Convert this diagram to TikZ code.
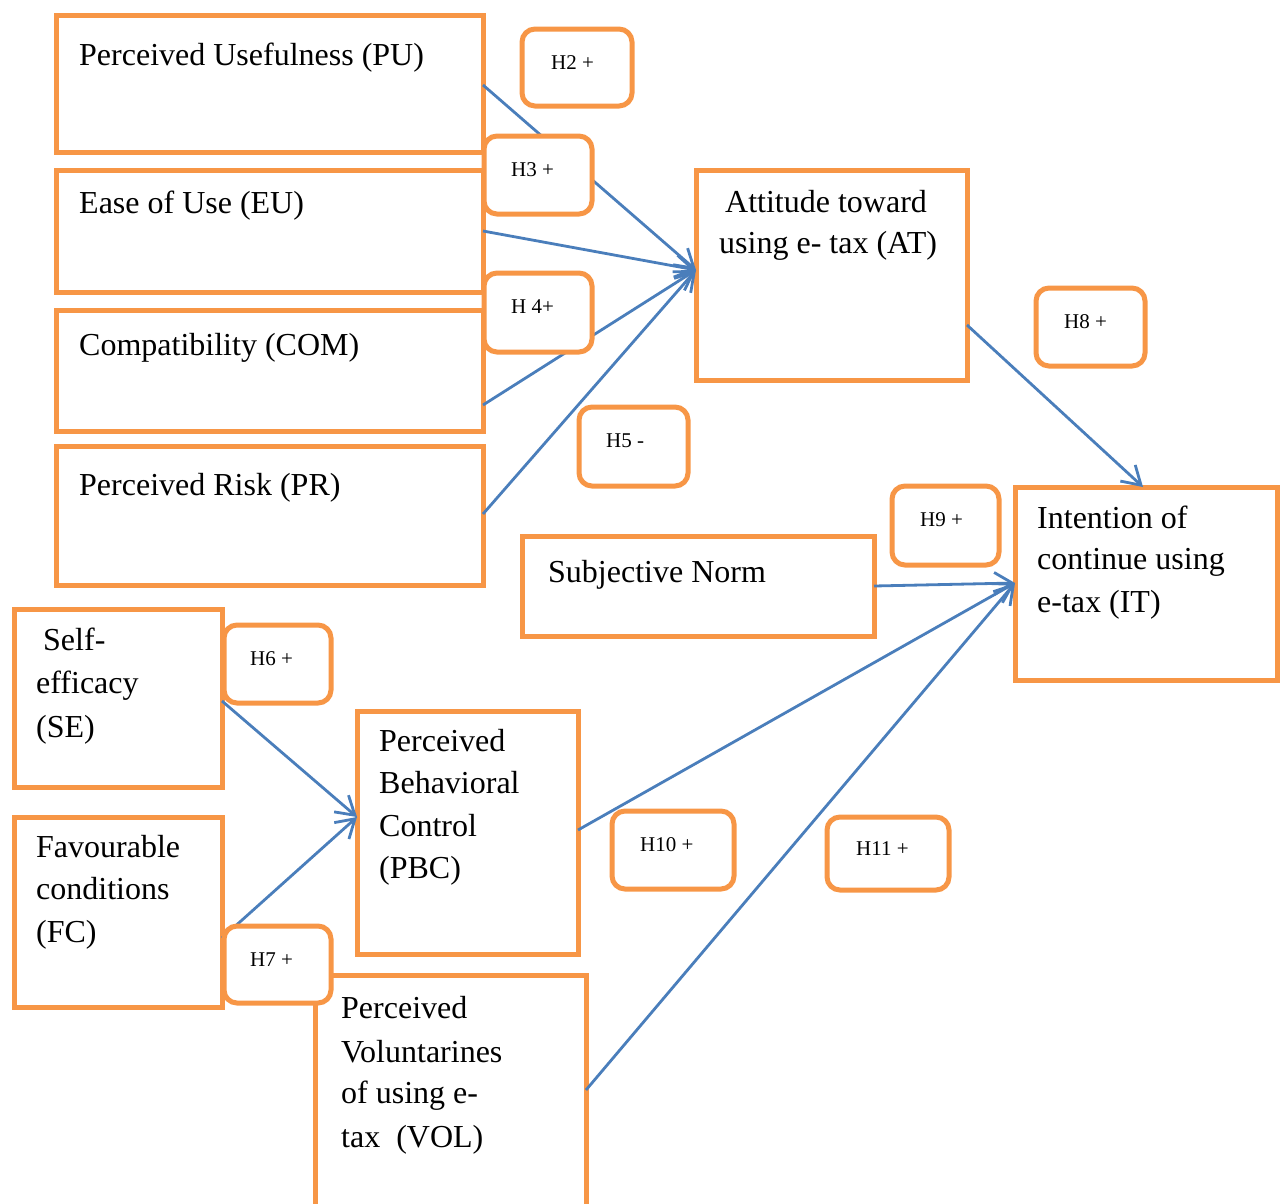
\documentclass[tikz,border=0pt]{standalone}
\usepackage{fontspec}
\setmainfont{Liberation Serif}
\usetikzlibrary{arrows.meta,calc}
\definecolor{boxor}{HTML}{F79646}
\definecolor{linkbl}{HTML}{4A7EBB}
\begin{document}
\begin{tikzpicture}[x=1pt,y=-1pt,
  bigbox/.style={draw=boxor,line width=5pt,rectangle,inner sep=0pt,outer sep=0pt,anchor=north west,fill=white},
  hbox/.style={draw=boxor,line width=5pt,rectangle,rounded corners=13pt,inner sep=0pt,outer sep=0pt,anchor=north west,fill=white},
  bigtxt/.style={anchor=base west,inner sep=0pt,font=\fontsize{32}{42}\selectfont},
  htxt/.style={anchor=base west,inner sep=0pt,font=\fontsize{21}{25}\selectfont},
  link/.style={draw=linkbl,line width=2.8pt,-{Straight Barb[length=18pt,width=22pt,line width=2.8pt]}}]
\path[use as bounding box] (0,0) rectangle (1283,1203);
\clip (0,0) rectangle (1283,1203);
% main boxes
\node[bigbox,minimum width=427pt,minimum height=137pt] (pu) at (56,15) {};
\node[bigbox,minimum width=427pt,minimum height=122pt] (eu) at (56,170) {};
\node[bigbox,minimum width=427pt,minimum height=121pt] (com) at (56,310) {};
\node[bigbox,minimum width=427pt,minimum height=139pt] (pr) at (56,446) {};
\node[bigbox,minimum width=208pt,minimum height=178pt] (se) at (14,609) {};
\node[bigbox,minimum width=208pt,minimum height=190pt] (fc) at (14,817) {};
\node[bigbox,minimum width=221pt,minimum height=243pt] (pbc) at (357,711) {};
\node[bigbox,minimum width=271pt,minimum height=245pt] (vol) at (315,975) {};
\node[bigbox,minimum width=271pt,minimum height=210pt] (at) at (696,170) {};
\node[bigbox,minimum width=352pt,minimum height=100pt] (sn) at (522,536) {};
\node[bigbox,minimum width=262pt,minimum height=193pt] (it) at (1015,487) {};
% texts
\node[bigtxt] (pu-t) at (79,65) {Perceived Usefulness (PU)};
\node[bigtxt] (eu-t) at (79,213) {Ease of Use (EU)};
\node[bigtxt] (com-t) at (79,355) {Compatibility (COM)};
\node[bigtxt] (pr-t) at (79,495) {Perceived Risk (PR)};
\node[bigtxt] (at-t1) at (725,212) {Attitude toward};
\node[bigtxt] (at-t2) at (719,253) {using e- tax (AT)};
\node[bigtxt] (it-t1) at (1037,528) {Intention of};
\node[bigtxt] (it-t2) at (1037,569) {continue using};
\node[bigtxt] (it-t3) at (1037,612) {e-tax (IT)};
\node[bigtxt] (sn-t) at (548,582) {Subjective Norm};
\node[bigtxt] (se-t1) at (43,650) {Self-};
\node[bigtxt] (se-t2) at (36,693) {efficacy};
\node[bigtxt] (se-t3) at (36,737) {(SE)};
\node[bigtxt] (fc-t1) at (36,857) {Favourable};
\node[bigtxt] (fc-t2) at (36,899) {conditions};
\node[bigtxt] (fc-t3) at (36,942) {(FC)};
\node[bigtxt] (pbc-t1) at (379,751) {Perceived};
\node[bigtxt] (pbc-t2) at (379,793) {Behavioral};
\node[bigtxt] (pbc-t3) at (379,836) {Control};
\node[bigtxt] (pbc-t4) at (379,878) {(PBC)};
\node[bigtxt] (vol-t1) at (341,1018) {Perceived};
\node[bigtxt] (vol-t2) at (341,1062) {Voluntarines};
\node[bigtxt] (vol-t3) at (341,1103) {of using e-};
\node[bigtxt] (vol-t4) at (341,1147) {tax\ \ (VOL)};
% connectors
\draw[link] ($(pu.north east)+(0,70)$) -- ($(at.north west)+(0,100)$);
\draw[link] ($(eu.north east)+(0,61)$) -- ($(at.north west)+(0,100)$);
\draw[link] ($(com.north east)+(0,95)$) -- ($(at.north west)+(0,100)$);
\draw[link] ($(pr.north east)+(0,68)$) -- ($(at.north west)+(0,100)$);
\draw[link] ($(at.north east)+(0,155)$) -- ($(it.north west)+(128,0)$);
\draw[link] ($(sn.north east)+(0,50)$) -- ($(it.north west)+(0,96)$);
\draw[link] ($(pbc.north east)+(0,119)$) -- ($(it.north west)+(0,96)$);
\draw[link] ($(vol.north east)+(0,115)$) -- ($(it.north west)+(0,96)$);
\draw[link] ($(se.north east)+(0,92)$) -- ($(pbc.north west)+(0,106)$);
\draw[link] ($(fc.north east)+(0,121)$) -- ($(pbc.north west)+(0,106)$);
% hypothesis boxes
\node[hbox,minimum width=110pt,minimum height=77pt] (h2) at (522,29) {};
\node[hbox,minimum width=108pt,minimum height=78pt] (h3) at (484,136) {};
\node[hbox,minimum width=108pt,minimum height=79pt] (h4) at (484,273) {};
\node[hbox,minimum width=109pt,minimum height=79pt] (h5) at (579,407) {};
\node[hbox,minimum width=107pt,minimum height=78pt] (h6) at (224,625) {};
\node[hbox,minimum width=107pt,minimum height=77pt] (h7) at (224,926) {};
\node[hbox,minimum width=109pt,minimum height=78pt] (h8) at (1036,288) {};
\node[hbox,minimum width=107pt,minimum height=79pt] (h9) at (892,486) {};
\node[hbox,minimum width=122pt,minimum height=78pt] (h10) at (612,811) {};
\node[hbox,minimum width=122pt,minimum height=73pt] (h11) at (827,817) {};
\node[htxt] (h2-t) at ($(h2.north west)+(29,40)$) {H2 +};
\node[htxt] (h3-t) at ($(h3.north west)+(27,40)$) {H3 +};
\node[htxt] (h4-t) at ($(h4.north west)+(27,40)$) {H 4+};
\node[htxt] (h5-t) at ($(h5.north west)+(27,40)$) {H5 -};
\node[htxt] (h6-t) at ($(h6.north west)+(26,40)$) {H6 +};
\node[htxt] (h7-t) at ($(h7.north west)+(26,40)$) {H7 +};
\node[htxt] (h8-t) at ($(h8.north west)+(28,40)$) {H8 +};
\node[htxt] (h9-t) at ($(h9.north west)+(28,40)$) {H9 +};
\node[htxt] (h10-t) at ($(h10.north west)+(28,40)$) {H10 +};
\node[htxt] (h11-t) at ($(h11.north west)+(29,38)$) {H11 +};
\end{tikzpicture}
\end{document}
